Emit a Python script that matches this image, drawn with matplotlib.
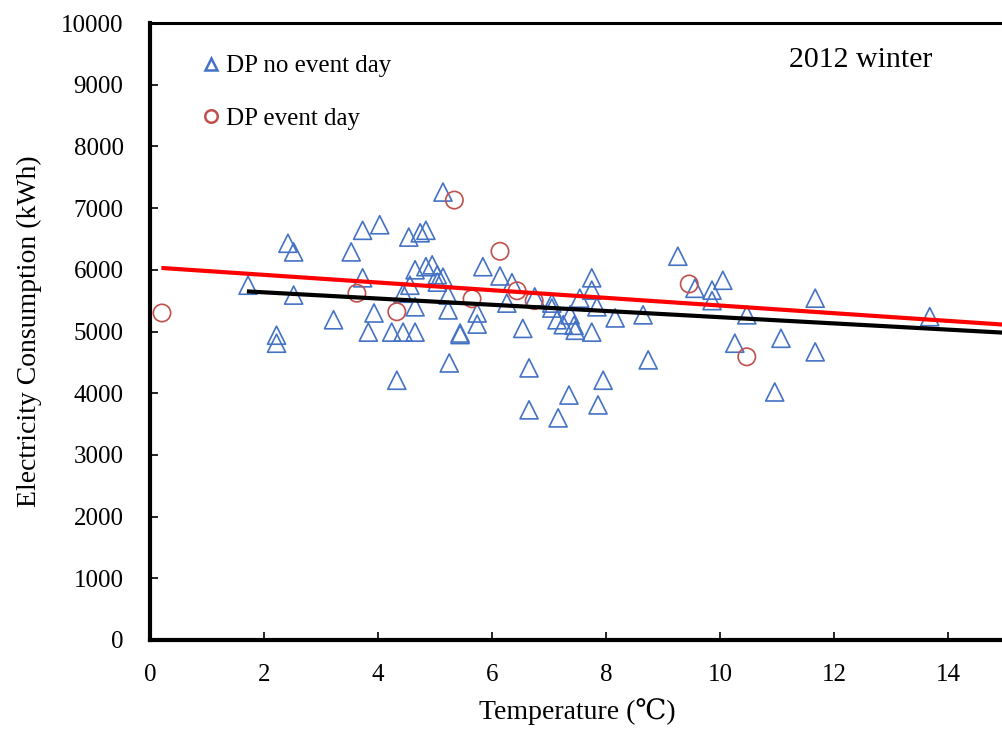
import matplotlib
matplotlib.use("Agg")
import matplotlib.pyplot as plt
from matplotlib.lines import Line2D

plt.rcParams['font.family'] = ['Liberation Serif', 'DejaVu Serif']

# DP no event day (temperature, consumption)
noevent_temp = [1.72, 2.22, 2.22, 2.42, 2.52, 2.52, 3.22, 3.53, 3.73, 3.73, 3.83, 3.93,
                4.03, 4.24, 4.33, 4.44, 4.44, 4.54, 4.56, 4.65, 4.65, 4.65, 4.74, 4.84,
                4.84, 4.95, 5.04, 5.04, 5.14, 5.14, 5.23, 5.23, 5.25, 5.44, 5.44, 5.74,
                5.74, 5.84, 6.14, 6.26, 6.35, 6.54, 6.65, 6.65, 6.75, 7.05, 7.05, 7.14,
                7.16, 7.25, 7.35, 7.37, 7.44, 7.46, 7.54, 7.75, 7.75, 7.75, 7.84, 7.86,
                7.95, 8.16, 8.65, 8.74, 9.26, 9.56, 9.86, 9.86, 10.05, 10.26, 10.47,
                10.96, 11.07, 11.67, 11.67, 13.68]
noevent_kwh = [5750, 4940, 4810, 6430, 6290, 5590, 5190, 6290, 6640, 5870, 4990, 5300,
               6730, 4990, 4210, 4990, 5620, 6530, 5750, 5400, 6000, 4990, 6600, 6640,
               6050, 6080, 5920, 5800, 7260, 5880, 5590, 5350, 4490, 4975, 4950, 5300,
               5120, 6050, 5900, 5460, 5790, 5050, 4410, 3730, 5560, 5460, 5380, 5190,
               3600, 5110, 3970, 5270, 5100, 5020, 5540, 5870, 5670, 4990, 5400, 3810,
               4210, 5220, 5270, 4540, 6220, 5700, 5670, 5500, 5830, 4810, 5270,
               4020, 4890, 5540, 4670, 5240]

# DP event day
event_temp = [0.21, 3.63, 4.33, 5.34, 5.65, 6.14, 6.44, 6.74, 9.46, 10.47]
event_kwh = [5300, 5620, 5320, 7130, 5530, 6300, 5660, 5500, 5770, 4590]

# trend lines (end points)
noevent_fit_x = [1.7, 15.0]
noevent_fit_y = [5650, 4980]
event_fit_x = [0.2, 15.0]
event_fit_y = [6030, 5110]

xticks = [0, 2, 4, 6, 8, 10, 12, 14]
yticks = list(range(0, 10001, 1000))

blue = '#4472C4'
red_marker = '#C0504D'

fig = plt.figure(figsize=(10.03, 7.29), dpi=100)
ax = fig.add_axes([150/1003, 89/729, 855/1003, 617/729])

ax.scatter(noevent_temp, noevent_kwh, marker='^', s=13**2, facecolors='none',
           edgecolors=blue, linewidths=1.2, zorder=3)
ax.scatter(event_temp, event_kwh, marker='o', s=12.5**2, facecolors='none',
           edgecolors=red_marker, linewidths=1.2, zorder=3)
ax.plot(noevent_fit_x, noevent_fit_y, color='black', lw=3, zorder=4, solid_capstyle='butt')
ax.plot(event_fit_x, event_fit_y, color='#FF0000', lw=3, zorder=4, solid_capstyle='butt')

ax.set_xlim(0, 15)
ax.set_ylim(0, 10000)
ax.set_xticks(xticks)
ax.set_yticks(yticks)
ax.tick_params(direction='in', length=6, width=1.2, labelsize=18)
ax.tick_params(axis='y', pad=19)
ax.tick_params(axis='x', pad=17)

for side in ['left', 'bottom']:
    ax.spines[side].set_linewidth(3)
ax.spines['top'].set_linewidth(2.2)
ax.spines['right'].set_visible(False)

ax.set_xlabel('Temperature (℃)', fontsize=20, labelpad=9)
ax.set_ylabel('Electricity Consumption (kWh)', fontsize=20, labelpad=14)

handles = [Line2D([], [], marker='^', ls='none', markersize=9, markerfacecolor='none',
                  markeredgecolor=blue, markeredgewidth=1.8),
           Line2D([], [], marker='o', ls='none', markersize=9, markerfacecolor='none',
                  markeredgecolor=red_marker, markeredgewidth=1.8)]
ax.legend(handles, ['DP no event day', 'DP event day'], loc='upper left',
          bbox_to_anchor=(0.036, 0.985), frameon=False, fontsize=18,
          handlelength=0.6, handletextpad=0.3, labelspacing=1.2)

ax.text(0.747, 0.94, '2012 winter', transform=ax.transAxes, fontsize=21.5,
        ha='left', va='center')

fig.savefig('out.png', dpi=100)
